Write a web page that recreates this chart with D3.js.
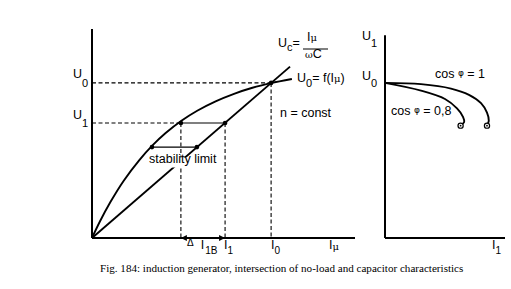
<!DOCTYPE html>
<html><head><meta charset="utf-8">
<script src="https://cdn.jsdelivr.net/npm/d3@7"></script>
<style>
html,body{margin:0;padding:0;background:#fff;}
svg{display:block;}
text{font-family:"Liberation Sans",Arial,sans-serif;fill:#000;}
</style></head>
<body>
<script>
// ---------- data (arbitrary units) ----------
// no-load characteristic U0 = f(Iμ)
const noLoadI = [0, 3, 7, 12, 18, 23, 28, 34, 40, 47, 54, 61, 68, 76];
const noLoadU = [0, 7.9, 17.2, 27.3, 37.3, 44.3, 50.2, 56.1, 60.9, 65.4, 69.0, 71.9, 74.1, 76.1];
// capacitor characteristic Uc = Iμ/(ωC), straight line
const capI = [0, 75.3];
const capU = [0, 82.0];
// operating levels: U0 (no-load point), U1 (loaded), stability limit
const levelU = [74.2, 55.0, 43.5];
const levelCurveI = [68.1, 33.8, 22.8];
const levelLineI = [68.1, 50.6, 39.9];
// load characteristics U1 = f(I1)
const cos1I = [0, 30, 55, 70, 80, 85, 86.5, 85];
const cos1U = [74.2, 73.6, 71.5, 68.5, 64.5, 60, 56, 54];
const cos08I = [0, 30, 50, 60, 65, 66, 63];
const cos08U = [74.2, 70.5, 66.5, 62, 58, 55.5, 54];
// texts
const caption = "Fig. 184: induction generator, intersection of no-load and capacitor characteristics";

// ---------- drawing ----------
const W = 511, H = 289;
const svg = d3.select("body").append("svg").attr("width", W).attr("height", H);

const x = d3.scaleLinear().domain([0, 100]).range([92, 355]);
const y = d3.scaleLinear().domain([0, 100]).range([238, 29]);
const xr = d3.scaleLinear().domain([0, 100]).range([385, 505]);

const toPts = (I, U) => I.map((v, i) => [v, U[i]]);
const lineL = d3.line().x(d => x(d[0])).y(d => y(d[1])).curve(d3.curveCatmullRom.alpha(0.5));
const lineR = d3.line().x(d => xr(d[0])).y(d => y(d[1])).curve(d3.curveCatmullRom.alpha(0.5));

const g = svg.append("g");

// dashed guide lines
const dash = "4,2.5";
g.append("line").attr("x1", x(0)).attr("x2", x(levelCurveI[0])).attr("y1", y(levelU[0])).attr("y2", y(levelU[0]))
  .attr("stroke", "#000").attr("stroke-width", 1.1).attr("stroke-dasharray", dash);
g.append("line").attr("x1", x(0)).attr("x2", x(levelCurveI[1])).attr("y1", y(levelU[1])).attr("y2", y(levelU[1]))
  .attr("stroke", "#000").attr("stroke-width", 1.1).attr("stroke-dasharray", dash);
[levelCurveI[0], levelCurveI[1], levelLineI[1]].forEach((iv, k) => {
  const uTop = k === 0 ? levelU[0] : levelU[1];
  g.append("line").attr("x1", x(iv)).attr("x2", x(iv)).attr("y1", y(uTop)).attr("y2", y(0))
    .attr("stroke", "#000").attr("stroke-width", 1.1).attr("stroke-dasharray", dash);
});
[1, 2].forEach(k => {
  g.append("line").attr("x1", x(levelCurveI[k])).attr("x2", x(levelLineI[k]))
    .attr("y1", y(levelU[k])).attr("y2", y(levelU[k]))
    .attr("stroke", "#000").attr("stroke-width", 1.1);
});

// capacitor straight line
g.append("path").attr("d", lineL(toPts(capI, capU))).attr("fill", "none").attr("stroke", "#000").attr("stroke-width", 1.9);
// no-load curve
g.append("path").attr("d", lineL(toPts(noLoadI, noLoadU))).attr("fill", "none").attr("stroke", "#000").attr("stroke-width", 1.9);

// stability limit label with white mask
g.append("rect").attr("x", 148).attr("y", 157.5).attr("width", 70).attr("height", 10).attr("fill", "#fff");
g.append("text").attr("x", 149).attr("y", 163).attr("font-size", 12.5).text("stability limit");

// dots
const dots = [];
levelU.forEach((u, k) => { dots.push([levelCurveI[k], u]); if (k > 0) dots.push([levelLineI[k], u]); });
g.selectAll("circle.dot").data(dots).join("circle").attr("class", "dot")
  .attr("cx", d => x(d[0])).attr("cy", d => y(d[1])).attr("r", 2.3).attr("fill", "#000");

// axes left
g.append("line").attr("x1", x(0)).attr("x2", x(0)).attr("y1", y(100)).attr("y2", y(0)).attr("stroke", "#000").attr("stroke-width", 2);
g.append("line").attr("x1", x(0)).attr("x2", x(100)).attr("y1", y(0)).attr("y2", y(0)).attr("stroke", "#000").attr("stroke-width", 2);

// Δ arrows on x-axis
const ya = y(0);
const aL = x(levelCurveI[1]), aR = x(levelLineI[1]);
g.append("path").attr("d", `M${aL},${ya} l6,-3 l0,6 Z`).attr("fill", "#000");
g.append("path").attr("d", `M${aR},${ya} l-6,-3 l0,6 Z`).attr("fill", "#000");

// right axes
g.append("line").attr("x1", xr(0)).attr("x2", xr(0)).attr("y1", y(97)).attr("y2", y(0)).attr("stroke", "#000").attr("stroke-width", 2);
g.append("line").attr("x1", xr(0)).attr("x2", xr(100)).attr("y1", y(0)).attr("y2", y(0)).attr("stroke", "#000").attr("stroke-width", 2);

// right curves
[[cos1I, cos1U], [cos08I, cos08U]].forEach(([I, U]) => {
  g.append("path").attr("d", lineR(toPts(I, U))).attr("fill", "none").attr("stroke", "#000").attr("stroke-width", 1.9);
  const e = [I[I.length - 1], U[U.length - 1]];
  g.append("circle").attr("cx", xr(e[0])).attr("cy", y(e[1]) + 0.5).attr("r", 2.6).attr("fill", "#fff").attr("stroke", "#000").attr("stroke-width", 1.2);
  g.append("circle").attr("cx", xr(e[0])).attr("cy", y(e[1]) + 0.5).attr("r", 0.9).attr("fill", "#000");
});

// ---------- labels ----------
function sub(xp, yp, main, s, fs = 12.5, sfs = 10, sdy = 8) {
  const t = g.append("text").attr("x", xp).attr("y", yp).attr("font-size", fs);
  t.append("tspan").text(main);
  t.append("tspan").attr("font-size", sfs).attr("dy", sdy).text(s);
  return t;
}
sub(73, 78, "U", "0", 12.5, 11, 9);
sub(73, 119, "U", "1", 12.5, 11, 8);
sub(362, 40, "U", "1", 12.5, 11, 7);
sub(362, 80, "U", "0", 12.5, 11, 7);

// x labels
sub(224, 248.5, "I", "1", 12.5, 10, 5);
sub(271, 248.5, "I", "0", 12.5, 10, 5);
sub(492, 248.5, "I", "1", 12.5, 10, 5);
const tmu = g.append("text").attr("x", 329).attr("y", 248.5).attr("font-size", 12.5);
tmu.append("tspan").text("I");
tmu.append("tspan").attr("font-size", 10).attr("dy", 1).attr("font-family", "DejaVu Serif").text("μ");
const tdel = g.append("text").attr("x", 187).attr("y", 246).attr("font-size", 10);
tdel.append("tspan").text("Δ");
tdel.append("tspan").attr("dx", 7).attr("dy", 2.5).attr("font-size", 12.5).text("I");
tdel.append("tspan").attr("dy", 5).attr("dx", 1).attr("font-size", 10).text("1B");

// Uc = Iμ / ωC
sub(278, 47, "U", "c", 12.5, 11, 4).append("tspan").attr("dy", -4).attr("font-size", 12.5).text("=");
const tn = g.append("text").attr("x", 307).attr("y", 41).attr("font-size", 12.5);
tn.append("tspan").text("I");
tn.append("tspan").attr("font-size", 10).attr("font-family", "DejaVu Serif").text("μ");
g.append("line").attr("x1", 303).attr("x2", 328).attr("y1", 49).attr("y2", 49).attr("stroke", "#000").attr("stroke-width", 1);
const td = g.append("text").attr("x", 305).attr("y", 58).attr("font-size", 12.5);
td.append("tspan").attr("font-size", 9.5).attr("font-family", "DejaVu Serif").text("ω");
td.append("tspan").text("C");

// U0 = f(Iμ)
const tf = sub(297, 82, "U", "0", 12.5, 11, 5);
tf.append("tspan").attr("dy", -5).text("= f(I");
tf.append("tspan").attr("font-size", 10).attr("font-family", "DejaVu Serif").text("μ");
tf.append("tspan").text(")");

g.append("text").attr("x", 280).attr("y", 117).attr("font-size", 12.5).text("n = const");

function cosLabel(xp, yp, val) {
  const t = g.append("text").attr("x", xp).attr("y", yp).attr("font-size", 12.5);
  t.append("tspan").text("cos ");
  t.append("tspan").attr("font-size", 9).attr("dy", -2).attr("font-family", "DejaVu Sans").text("φ");
  t.append("tspan").attr("dy", 2).text(" = " + val);
}
cosLabel(435, 78, "1");
cosLabel(391, 115, "0,8");

// caption
svg.append("text").attr("x", 100).attr("y", 271.5).attr("font-size", 11.1)
  .style("font-family", "'Liberation Serif','Times New Roman',serif").text(caption);
</script>
</body></html>
